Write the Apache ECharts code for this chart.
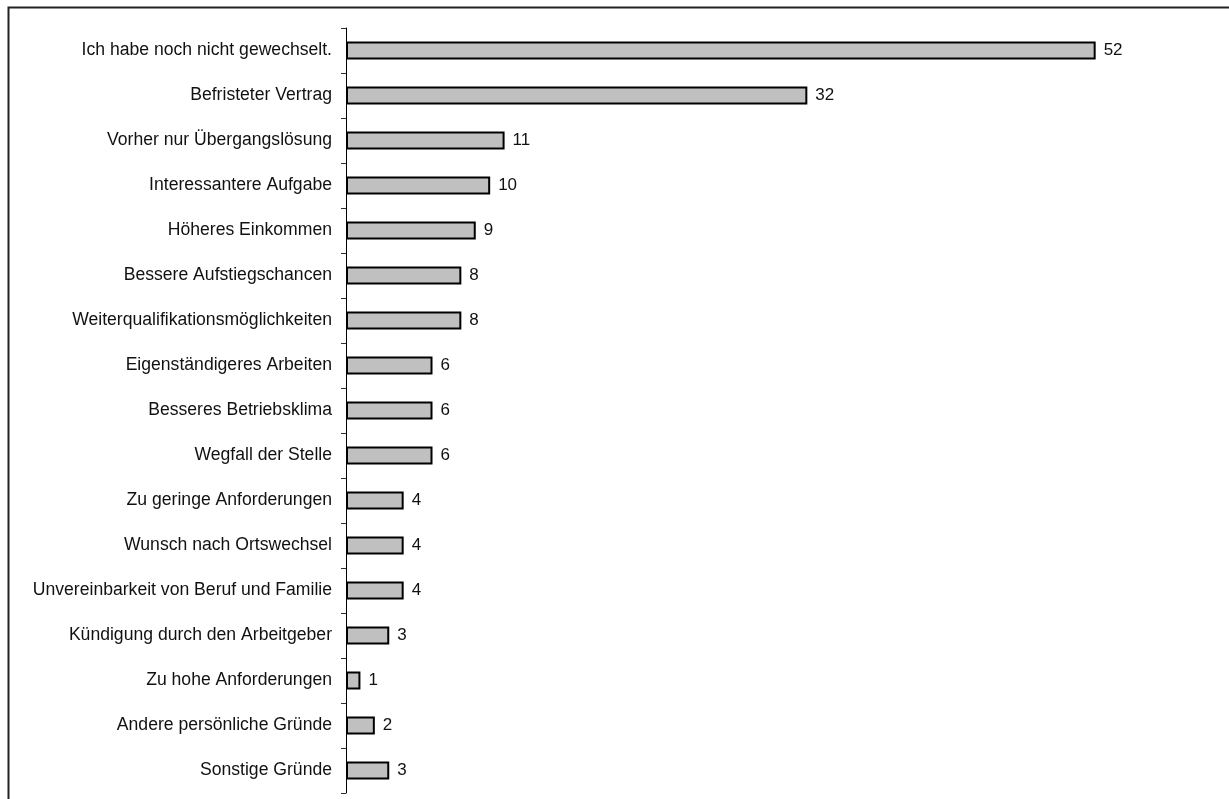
<!DOCTYPE html>
<html><head><meta charset="utf-8">
<script src="https://cdn.jsdelivr.net/npm/echarts@6/dist/echarts.min.js"></script>
<style>html,body{margin:0;padding:0;background:#fff}#c{width:1229px;height:799px}</style>
</head><body><div id="c"></div>
<script>
const categories = [
  "Ich habe noch nicht gewechselt.",
  "Befristeter Vertrag",
  "Vorher nur Übergangslösung",
  "Interessantere Aufgabe",
  "Höheres Einkommen",
  "Bessere Aufstiegschancen",
  "Weiterqualifikationsmöglichkeiten",
  "Eigenständigeres Arbeiten",
  "Besseres Betriebsklima",
  "Wegfall der Stelle",
  "Zu geringe Anforderungen",
  "Wunsch nach Ortswechsel",
  "Unvereinbarkeit von Beruf und Familie",
  "Kündigung durch den Arbeitgeber",
  "Zu hohe Anforderungen",
  "Andere persönliche Gründe",
  "Sonstige Gründe"
];
const values = [52, 32, 11, 10, 9, 8, 8, 6, 6, 6, 4, 4, 4, 3, 1, 2, 3];

const FONT = "'Liberation Sans Narrow', 'Arial Narrow', 'Liberation Sans', sans-serif";
const chart = echarts.init(document.getElementById('c'));
chart.setOption({
  animation: false,
  backgroundColor: '#fff',
  graphic: [{
    type: 'rect', shape: {x: 8.5, y: 7.5, width: 1400, height: 900},
    style: {fill: 'none', stroke: '#222', lineWidth: 2}, silent: true
  }],
  grid: {left: 346, top: 28, width: 865, height: 765, containLabel: false},
  xAxis: {
    type: 'value', min: 0, max: 60, show: false
  },
  yAxis: {
    type: 'category', data: categories, inverse: true,
    axisLine: {show: true, lineStyle: {color: '#000', width: 1}},
    axisTick: {show: true, length: 5, lineStyle: {color: '#333'}},
    axisLabel: {color: '#111', fontSize: 17.6, fontFamily: FONT, margin: 14},
    splitLine: {show: false}
  },
  series: [{
    type: 'bar', data: values, barWidth: 18,
    itemStyle: {color: '#c0c0c0', borderColor: '#000', borderWidth: 2},
    label: {show: true, position: 'right', distance: 8, color: '#111', fontSize: 17, fontFamily: FONT}
  }]
});
</script></body></html>
